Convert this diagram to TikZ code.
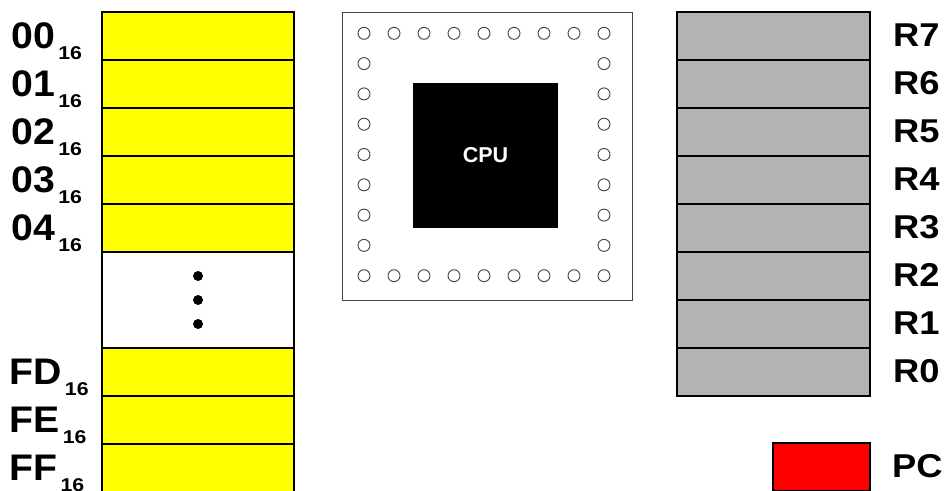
\documentclass[tikz,border=0pt]{standalone}
\usepackage{fontspec}
\setmainfont{Liberation Sans}
\definecolor{memyellow}{HTML}{FFFF00}
\definecolor{reggrey}{HTML}{B3B3B3}
\definecolor{pcred}{HTML}{FF0000}
\definecolor{chipgrey}{HTML}{444444}
\newcommand{\addrlabel}[1]{\scalebox{1.06}[1]{\fontsize{37}{37}\selectfont\bfseries #1}\hspace{3.5pt}\raisebox{-11.5pt}{\scalebox{1.15}[1]{\fontsize{18.5}{18.5}\selectfont\bfseries 16}}}
\newcommand{\reglbl}[1]{\scalebox{1.1}[1]{#1}}
\begin{document}
\begin{tikzpicture}[x=1pt,y=-1pt,
  cell/.style={draw=black,line width=2pt,minimum width=192pt,minimum height=48pt,inner sep=0pt,outer sep=0pt},
  memcell/.style={cell,fill=memyellow},
  gapcell/.style={cell,fill=white,minimum height=96pt},
  regcell/.style={cell,fill=reggrey,minimum width=193pt},
  pccell/.style={cell,fill=pcred,minimum width=97pt},
  addr/.style={anchor=base west,inner sep=0pt},
  reglabel/.style={anchor=west,inner sep=0pt,font=\fontsize{33}{33}\selectfont\bfseries},
  pin/.style={circle,draw=chipgrey,line width=0.9pt,minimum size=12pt,inner sep=0pt},
  dot/.style={circle,fill=black,minimum size=10pt,inner sep=0pt}]
\useasboundingbox (0,0) rectangle (944,490);
\fill[white] (0,0) rectangle (944,490);
% memory
\foreach \i/\t in {0/00,1/01,2/02,3/03,4/04}{
  \node[memcell] (m\i) at (198,{36+48*\i}) {};
  \node[addr] (a\i) at (11,{12+48*\i+36}) {\addrlabel{\t}};
}
\node[gapcell] (gap) at (198,300) {};
\node[dot] (d1) at (198,276) {};
\node[dot] (d2) at (198,300) {};
\node[dot] (d3) at (198,324) {};
\foreach \i/\t in {5/FD,6/FE,7/FF}{
  \node[memcell] (m\i) at (198,{372+48*(\i-5)}) {};
  \node[addr] (a\i) at (9,{348+48*(\i-5)+36}) {\addrlabel{\t}};
}
% chip
\node[draw=chipgrey,line width=0.9pt,minimum width=290pt,minimum height=288pt,inner sep=0pt] (chip) at (487,156) {};
\node[fill=black,minimum width=145pt,minimum height=145pt,inner sep=0pt,text=white,font=\fontsize{21.5}{21.5}\selectfont\bfseries] (cpu) at (485.5,155.5) {CPU};
\foreach \k in {0,...,8}{
  \node[pin] (pt\k) at ({364+30*\k},33.3) {};
  \node[pin] (pb\k) at ({364+30*\k},275.7) {};
}
\foreach \k in {1,...,7}{
  \node[pin] (pl\k) at (364,{33.3+30.3*\k}) {};
  \node[pin] (pr\k) at (604,{33.3+30.3*\k}) {};
}
% registers
\foreach \i/\t in {0/7,1/6,2/5,3/4,4/3,5/2,6/1,7/0}{
  \node[regcell] (r\t) at (773.5,{36+48*\i}) {};
  \node[reglabel] (l\t) at (893,{35+48*\i}) {\reglbl{R\t}};
}
\node[pccell] (pc) at (821.5,467) {};
\node[reglabel] (lpc) at (892,466) {\reglbl{PC}};
\end{tikzpicture}
\end{document}
